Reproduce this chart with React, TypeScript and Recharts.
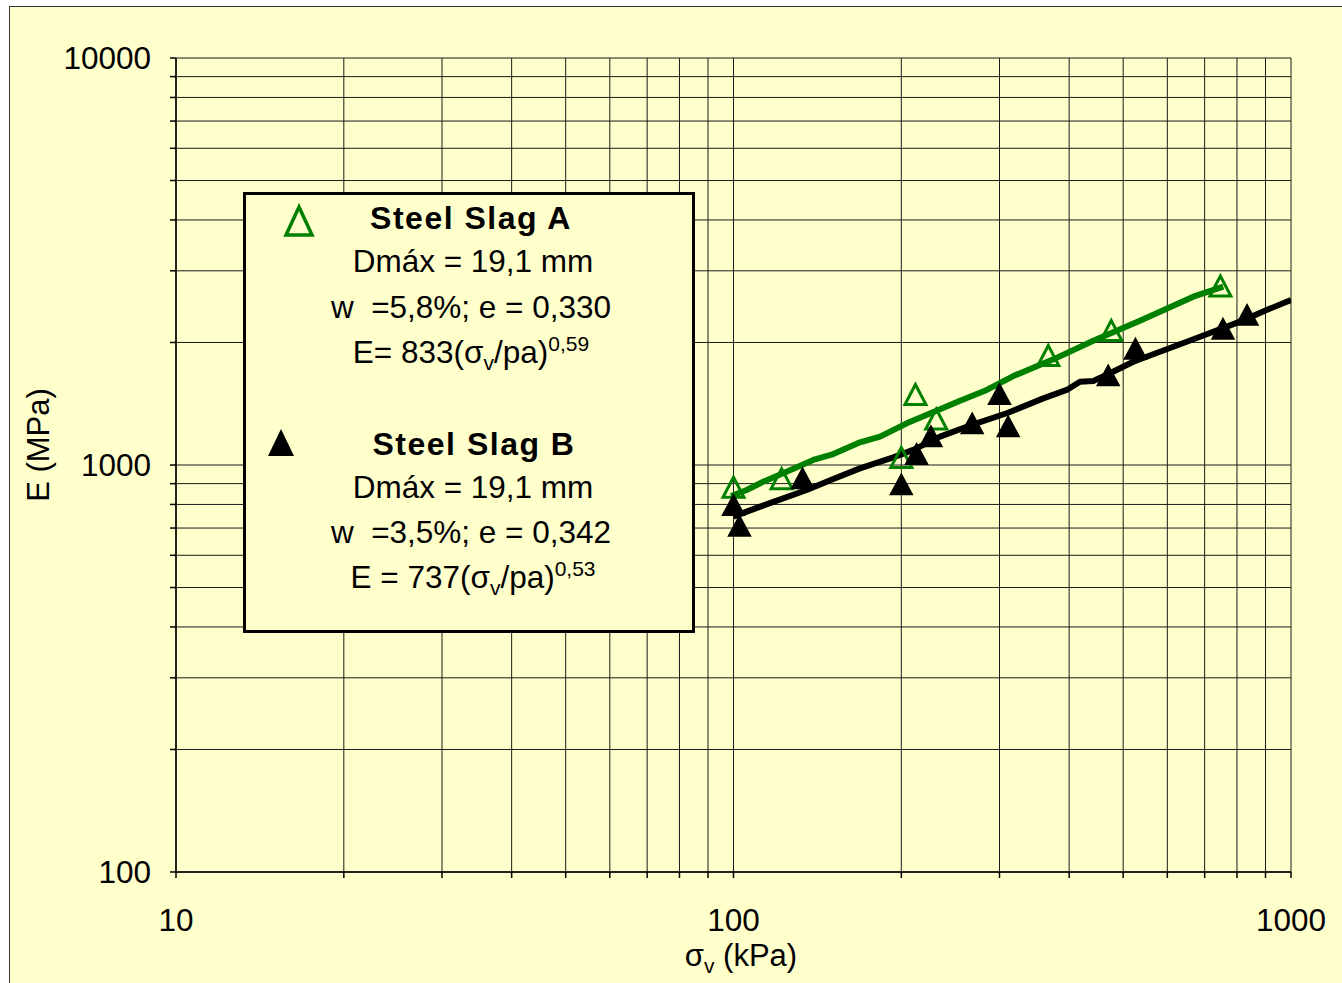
import React from 'react';
import { ScatterChart, Scatter, XAxis, YAxis, CartesianGrid } from 'recharts';

// Measured points, Steel Slag A (stress in kPa, modulus in MPa)
const slagAStress = [100, 122, 200, 212, 231, 367, 476, 747];
const slagAModulus = [879, 923, 1040, 1486, 1293, 1853, 2134, 2746];

// Measured points, Steel Slag B
const slagBStress = [100, 102.5, 133, 200, 213, 226, 268, 300, 311, 470, 526, 755, 834];
const slagBModulus = [794, 706, 924, 893, 1060, 1172, 1261, 1488, 1240, 1654, 1923, 2153, 2329];

// Fitted curves
const fitAStress = [99, 105.6, 113.1, 124.5, 139, 151, 168.6, 183.2, 204.5, 234.7, 254.9, 284.6, 317.6, 374.7, 442, 535.8, 668, 756];
const fitAModulus = [839, 868, 910, 963, 1029, 1064, 1137, 1174, 1266, 1371, 1439, 1529, 1654, 1818, 2020, 2262, 2591, 2742];
const fitBStress = [100, 105.6, 117.9, 135.3, 151, 168.6, 193.5, 210.1, 234.7, 262, 309, 359.5, 396, 418.3, 442, 473.5, 521.4, 582, 687, 810, 904, 1000];
const fitBModulus = [746, 768, 812, 868, 924, 981, 1044, 1089, 1174, 1242, 1340, 1458, 1529, 1602, 1608, 1680, 1794, 1898, 2066, 2250, 2403, 2543];

// Log axis ticks (labels only on decades)
const xTicks = [10, 20, 30, 40, 50, 60, 70, 80, 90, 100, 200, 300, 400, 500, 600, 700, 800, 900, 1000];
const yTicks = [100, 200, 300, 400, 500, 600, 700, 800, 900, 1000, 2000, 3000, 4000, 5000, 6000, 7000, 8000, 9000, 10000];
const xLabels = [10, 100, 1000];
const yLabels = [100, 1000, 10000];

const zip = (xs: number[], ys: number[]) => xs.map((x, i) => ({ x, y: ys[i] }));

const pointsA = zip(slagAStress, slagAModulus);
const pointsB = zip(slagBStress, slagBModulus);
const curveA = zip(fitAStress, fitAModulus);
const curveB = zip(fitBStress, fitBModulus);

const FONT = '"Liberation Sans", Arial, sans-serif';
const GREEN = '#008000';
const BG = '#FFFFCC';

const OpenTriangle = (props: any) => {
  const { cx, cy } = props;
  if (cx == null || cy == null) return <g />;
  return (
    <polygon
      points={`${cx},${cy - 10.5} ${cx - 10.5},${cy + 9.5} ${cx + 10.5},${cy + 9.5}`}
      fill="none"
      stroke={GREEN}
      strokeWidth={3}
    />
  );
};

const FilledTriangle = (props: any) => {
  const { cx, cy } = props;
  if (cx == null || cy == null) return <g />;
  return (
    <polygon
      points={`${cx},${cy - 11} ${cx - 11},${cy + 9.5} ${cx + 11},${cy + 9.5}`}
      fill="#000"
      stroke="#000"
      strokeWidth={1.5}
    />
  );
};

const NoDot = () => <g />;

const tickStyle = { fontSize: 31.5, fill: '#000', fontFamily: FONT };

const App: React.FC = () => {
  return (
    <div style={{ position: 'fixed', left: 0, top: 0, width: 1342, height: 983, overflow: 'hidden', background: '#fff' }}>
      <div
        style={{
          position: 'absolute',
          left: 9,
          top: 6,
          width: 1400,
          height: 1000,
          background: BG,
          borderLeft: '1.5px solid #333',
          borderTop: '1.5px solid #333',
        }}
      />
      <div style={{ position: 'absolute', left: 0, top: 0 }}>
        <ScatterChart width={1342} height={983} margin={{ top: 58, right: 51, bottom: 51, left: 76 }}>
          <CartesianGrid stroke="#1a1a1a" strokeWidth={1} />
          <XAxis
            dataKey="x"
            type="number"
            scale="log"
            domain={[10, 1000]}
            ticks={xTicks}
            allowDataOverflow
            height={60}
            stroke="#000"
            strokeWidth={1.5}
            tickSize={6}
            tickMargin={31}
            tick={tickStyle}
            tickFormatter={(v: number) => (xLabels.includes(v) ? String(v) : '')}
            interval={0}
          />
          <YAxis
            dataKey="y"
            type="number"
            scale="log"
            domain={[100, 10000]}
            ticks={yTicks}
            allowDataOverflow
            width={100}
            stroke="#000"
            strokeWidth={1.5}
            tickSize={6}
            tickMargin={19}
            tick={tickStyle}
            tickFormatter={(v: number) => (yLabels.includes(v) ? String(v) : '')}
            interval={0}
          />
          <Scatter
            data={curveA}
            stroke={GREEN}
            strokeWidth={6}
            line={{ stroke: GREEN, strokeWidth: 6, strokeLinejoin: 'round' }}
            shape={NoDot}
            isAnimationActive={false}
          />
          <Scatter
            data={curveB}
            stroke="#000"
            strokeWidth={6}
            line={{ stroke: '#000', strokeWidth: 6, strokeLinejoin: 'round' }}
            shape={NoDot}
            isAnimationActive={false}
          />
          <Scatter data={pointsA} shape={OpenTriangle} isAnimationActive={false} />
          <Scatter data={pointsB} shape={FilledTriangle} isAnimationActive={false} />
        </ScatterChart>
      </div>
      <svg
        width={1342}
        height={983}
        style={{ position: 'absolute', left: 0, top: 0, pointerEvents: 'none' }}
        fontFamily={FONT}
      >
        {/* axis titles */}
        <text x={741} y={966} fontSize={31} textAnchor="middle" fill="#000">
          σ<tspan dy={7} fontSize={21}>v</tspan>
          <tspan dy={-7}> (kPa)</tspan>
        </text>
        <text x={0} y={0} fontSize={31} textAnchor="middle" fill="#000" transform="translate(49,445) rotate(-90)">
          E (MPa)
        </text>

        {/* legend box */}
        <rect x={244.5} y={193.5} width={449} height={438} fill={BG} stroke="#000" strokeWidth={3} />
        <polygon points="299,207 286,235 312,235" fill="none" stroke={GREEN} strokeWidth={3.5} />
        <polygon points="281,429 268,456 294,456" fill="#000" />

        <g fontSize={31.5} textAnchor="middle" fill="#000">
          <text x={471} y={229} fontWeight="bold" fontSize={32} letterSpacing={1.5}>Steel Slag A</text>
          <text x={473} y={272}>Dmáx = 19,1 mm</text>
          <text x={471} y={318} style={{ whiteSpace: 'pre' }}>{'w  =5,8%; e = 0,330'}</text>
          <text x={471} y={363}>
            E= 833(σ<tspan dy={7} fontSize={21}>v</tspan>
            <tspan dy={-7}>/pa)</tspan>
            <tspan dy={-12} fontSize={21}>0,59</tspan>
          </text>

          <text x={474} y={455} fontWeight="bold" fontSize={32} letterSpacing={1.5}>Steel Slag B</text>
          <text x={473} y={498}>Dmáx = 19,1 mm</text>
          <text x={471} y={543} style={{ whiteSpace: 'pre' }}>{'w  =3,5%; e = 0,342'}</text>
          <text x={473} y={588}>
            E = 737(σ<tspan dy={7} fontSize={21}>v</tspan>
            <tspan dy={-7}>/pa)</tspan>
            <tspan dy={-12} fontSize={21}>0,53</tspan>
          </text>
        </g>
      </svg>
    </div>
  );
};

export default App;
